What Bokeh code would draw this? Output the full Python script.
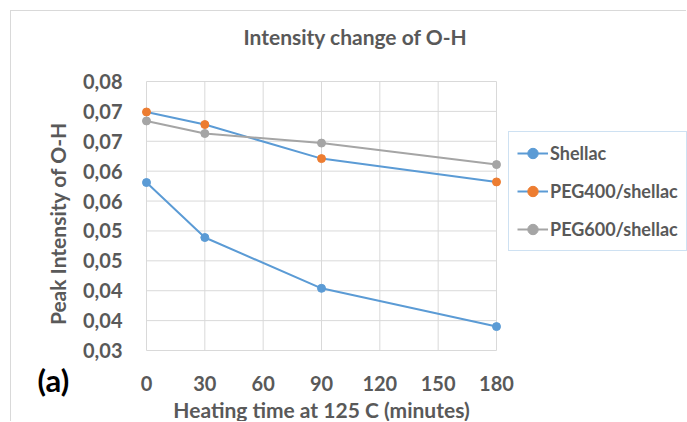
from bokeh.plotting import figure
from bokeh.models import Range1d, FixedTicker, Legend, LegendItem, Label, LinearAxis
from bokeh.embed import file_html
from bokeh.resources import INLINE

# ---- data ----
time_min = [0, 30, 90, 180]
shellac = [0.0581, 0.0489, 0.0404, 0.0340]
peg400 = [0.0699, 0.0678, 0.0621, 0.0582]
peg600 = [0.0684, 0.0663, 0.0647, 0.0611]

x_ticks = [0, 30, 60, 90, 120, 150, 180]
y_ticks = [0.030, 0.035, 0.040, 0.045, 0.050, 0.055, 0.060, 0.065, 0.070, 0.075]
y_tick_labels = ["0,03", "0,04", "0,04", "0,05", "0,05", "0,06", "0,06", "0,07", "0,07", "0,08"]

series_names = ["Shellac", "PEG400/shellac", "PEG600/shellac"]
title_text = "Intensity change of O-H"
x_title = "Heating time at 125 C (minutes)"
y_title = "Peak Intensity of O-H"
panel_tag = "(a)"

FONT = "Lato"
GRAY = "#595959"
GRID = "#d9d9d9"
BLUE = "#5b9bd5"
ORANGE = "#ed7d31"
SILVER = "#a5a5a5"

W, H = 676, 411
# plot area in canvas pixels: x 0 -> 135, x 180 -> 485 ; y 0.075 -> 70, y 0.030 -> 339
px_x = 350 / 180.0
px_y = 269 / 0.045
x0_range = 0 - 135 / px_x
x1_range = 180 + (W - 485) / px_x
y1_range = 0.075 + 70 / px_y
y0_range = 0.030 - (H - 339) / px_y

p = figure(
    width=W, height=H,
    x_range=Range1d(x0_range, x1_range),
    y_range=Range1d(y0_range, y1_range),
    output_backend="svg", toolbar_location=None,
    x_axis_location=None, y_axis_location=None,
    min_border=0,
)
p.styles = {"margin-left": "10px", "margin-top": "10px",
            "border-top": "1px solid #d9d9d9", "border-left": "1px solid #d9d9d9"}
p.outline_line_color = None
p.background_fill_color = "white"
p.border_fill_color = "white"
p.xgrid.visible = False
p.ygrid.visible = False

# grid lines over the plot area only
n_y = len(y_ticks)
n_x = len(x_ticks)
p.segment(x0=[x_ticks[0]] * n_y, x1=[x_ticks[-1]] * n_y, y0=y_ticks, y1=y_ticks,
          line_color=GRID, line_width=1)
p.segment(x0=x_ticks, x1=x_ticks, y0=[y_ticks[0]] * n_x, y1=[y_ticks[-1]] * n_x,
          line_color=GRID, line_width=1)

# axes drawn at fixed locations inside the (full-canvas) frame
xaxis = LinearAxis(fixed_location=y_ticks[0], ticker=FixedTicker(ticks=x_ticks),
                   bounds=(x_ticks[0], x_ticks[-1]), axis_label=x_title)
yaxis = LinearAxis(fixed_location=x_ticks[0], ticker=FixedTicker(ticks=y_ticks),
                   bounds=(0.0275, y_ticks[-1]), axis_label=y_title)
yaxis.major_label_overrides = dict(zip(y_ticks, y_tick_labels))
for ax in (xaxis, yaxis):
    ax.axis_line_color = None
    ax.major_tick_line_color = None
    ax.minor_tick_line_color = None
    ax.major_tick_out = 0
    ax.major_tick_in = 0
    ax.major_label_text_font = FONT
    ax.major_label_text_font_style = "bold"
    ax.major_label_text_color = GRAY
    ax.major_label_text_font_size = "20px"
    ax.axis_label_text_font = FONT
    ax.axis_label_text_font_style = "bold"
    ax.axis_label_text_color = GRAY
    ax.axis_label_text_font_size = "21px"
xaxis.major_label_standoff = 25
xaxis.axis_label_standoff = 3
yaxis.major_label_standoff = 24
yaxis.axis_label_standoff = 10
p.add_layout(xaxis, "below")
p.add_layout(yaxis, "left")

# series
r1l = p.line(time_min, shellac, line_color=BLUE, line_width=2)
r1s = p.scatter(time_min, shellac, size=8, fill_color=BLUE, line_color=BLUE)
r2l = p.line(time_min, peg400, line_color=BLUE, line_width=2)
r2s = p.scatter(time_min, peg400, size=8, fill_color=ORANGE, line_color=ORANGE)
r3l = p.line(time_min, peg600, line_color=SILVER, line_width=2)
r3s = p.scatter(time_min, peg600, size=8, fill_color=SILVER, line_color=SILVER)

legend = Legend(
    items=[
        LegendItem(label=series_names[0], renderers=[r1l, r1s]),
        LegendItem(label=series_names[1], renderers=[r2l, r2s]),
        LegendItem(label=series_names[2], renderers=[r3l, r3s]),
    ],
    location=(497, 171),
    orientation="vertical",
    border_line_color="#9dc3e6",
    border_line_width=1,
    background_fill_color="white",
    background_fill_alpha=1.0,
    padding=8, spacing=12, margin=0,
    glyph_width=31, glyph_height=26,
    label_standoff=2, label_height=26,
    label_text_font=FONT, label_text_font_style="bold",
    label_text_color=GRAY, label_text_font_size="18px",
)
p.add_layout(legend, "center")

# chart title and panel tag
p.add_layout(Label(x=107.5, y=0.0826, text=title_text, text_font=FONT, text_font_style="bold",
                   text_font_size="21px", text_color=GRAY,
                   text_align="center", text_baseline="middle"))
p.add_layout(Label(x=-56, y=0.0251, text=panel_tag, text_font=FONT, text_font_style="bold",
                   text_font_size="31px", text_color="black",
                   text_align="left", text_baseline="middle"))

open("out.html", "w").write(file_html(p, INLINE))
